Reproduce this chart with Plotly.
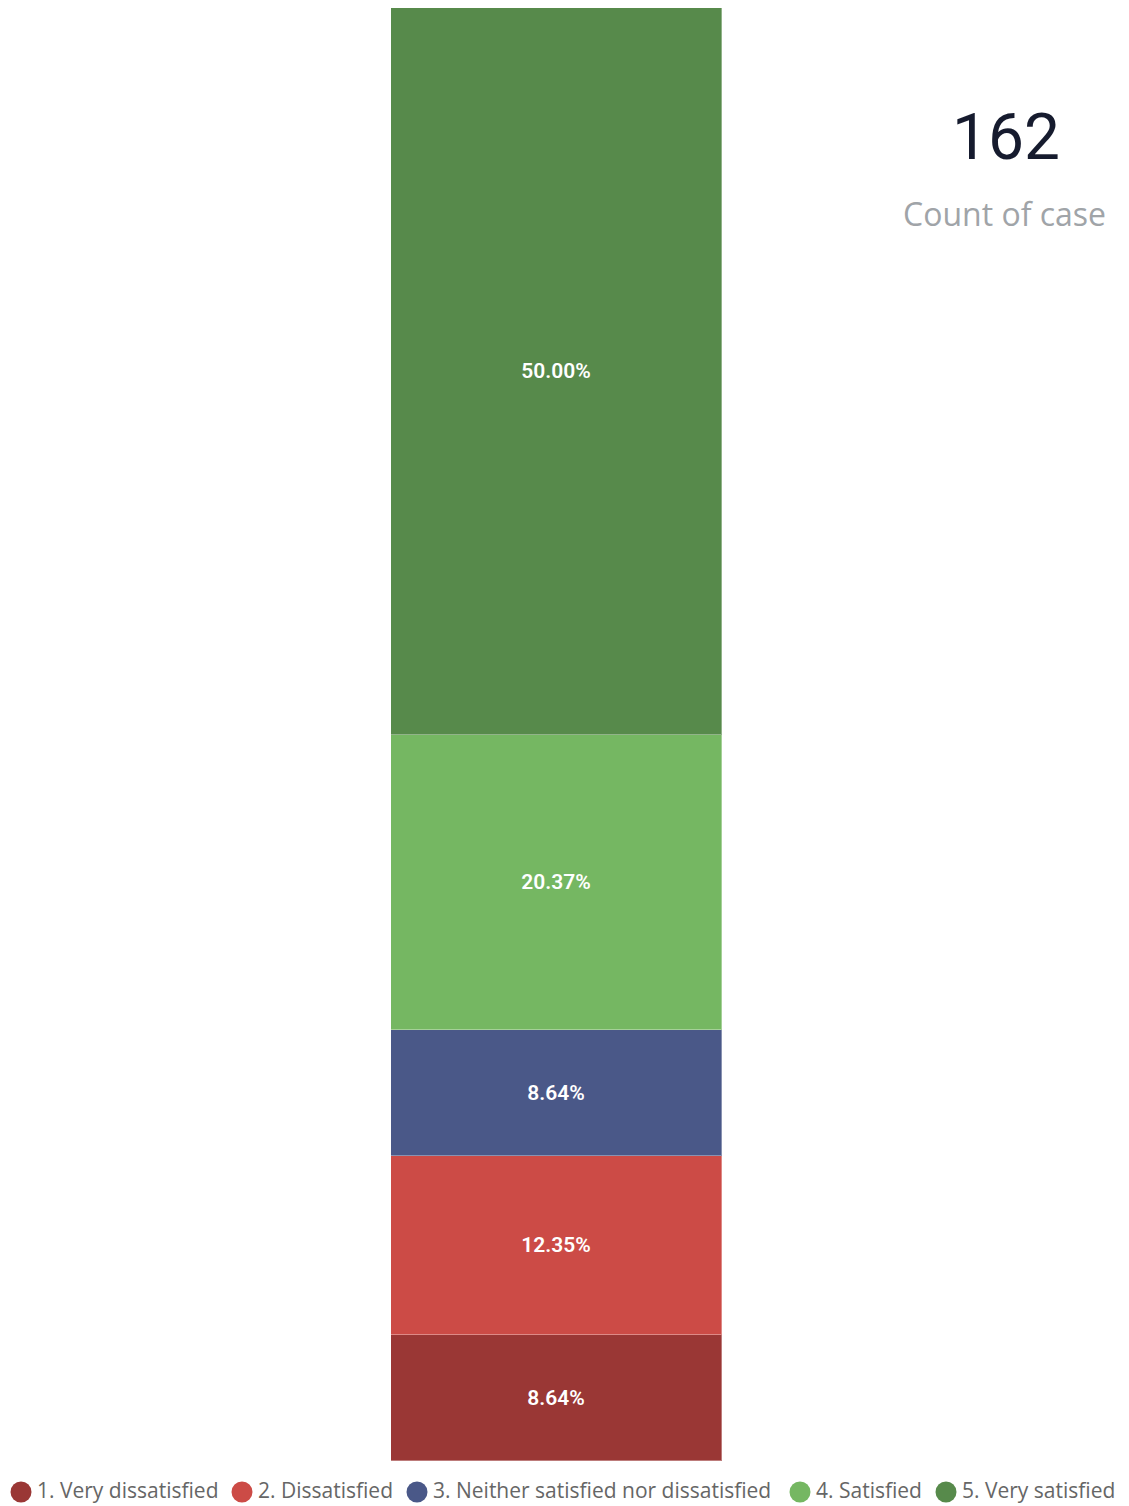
import plotly.graph_objects as go

categories = ["1. Very dissatisfied", "2. Dissatisfied", "3. Neither satisfied nor dissatisfied",
              "4. Satisfied", "5. Very satisfied"]
counts = [14, 20, 14, 33, 81]
colors = ["#9A3735", "#CC4B46", "#4A5888", "#75B762", "#578A4B"]
kpi_value = 162
kpi_label = "Count of case"

total = sum(counts)
pcts = [c / total * 100 for c in counts]

# page body has an 8px default margin; target screen pixels are shifted by OFF
OFF = 8
W, H = 1129 - OFF, 1506 - OFF
ML = 391 - OFF
MR = W - (722 - OFF)
MT = 0
MB = H - (1461 - OFF)

fig = go.Figure()
for cat, p, col in zip(categories, pcts, colors):
    fig.add_trace(go.Bar(
        x=["All"], y=[p], name=cat, showlegend=False,
        marker=dict(color=col, line=dict(color="rgba(255,255,255,0.35)", width=1)),
        text=[f"{p:.2f}%"], textposition="inside", insidetextanchor="middle",
        textfont=dict(color="white", size=21, family="Roboto", weight=600),
        hovertemplate=f"{cat}: %{{y:.2f}}%<extra></extra>",
    ))

fig.update_layout(
    width=W, height=H,
    barmode="stack", bargap=0,
    margin=dict(l=ML, r=MR, t=MT, b=MB, autoexpand=False),
    plot_bgcolor="white", paper_bgcolor="white",
    xaxis=dict(visible=False, range=[-0.5, 0.5]),
    yaxis=dict(visible=False, range=[0, 100]),
    showlegend=False,
)

pw = W - ML - MR
ph = H - MT - MB


def px(sx):
    return (sx - OFF - ML) / pw


def py(sy):
    return (H - (sy - OFF) - MB) / ph


# KPI card
fig.add_annotation(text=str(kpi_value), x=px(1006), y=py(137), xref="paper", yref="paper",
                   showarrow=False, xanchor="center", yanchor="middle",
                   font=dict(family="Roboto", size=64, color="#161b2e"))
fig.add_annotation(text=kpi_label, x=px(1004), y=py(213), xref="paper", yref="paper",
                   showarrow=False, xanchor="center", yanchor="middle",
                   font=dict(family="Open Sans", size=32, color="#A0A4A8"))

# custom legend with circle markers along the bottom
legend_text_x = [36, 257, 432, 815, 961]
ly = py(1490)
for cat, col, tx in zip(categories, colors, legend_text_x):
    fig.add_shape(type="circle", xref="paper", yref="paper",
                  xsizemode="pixel", ysizemode="pixel",
                  xanchor=px(tx - 15), yanchor=py(1492), x0=-10.5, x1=10.5, y0=-10.5, y1=10.5,
                  fillcolor=col, line=dict(width=0))
    fig.add_annotation(text=cat, x=px(tx), y=ly, xref="paper", yref="paper",
                       showarrow=False, xanchor="left", yanchor="middle", borderpad=0,
                       font=dict(family="Open Sans", size=21, color="#666666"))

fig.write_html("out.html")
